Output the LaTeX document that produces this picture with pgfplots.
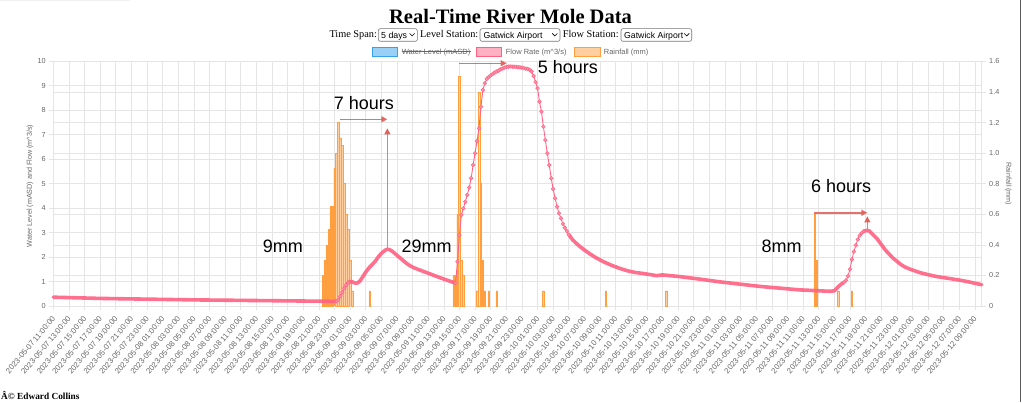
\documentclass[border=0pt]{standalone}
\usepackage{pgfplots}
\pgfplotsset{compat=1.18}
\usepackage{fontspec}
\setmainfont{Liberation Serif}
\setsansfont{Liberation Sans}
\newfontfamily\arial{Liberation Sans}
\usetikzlibrary{arrows.meta}

\definecolor{flowpink}{HTML}{FF6384}
\definecolor{rainorange}{HTML}{FF9F40}
\definecolor{bluefill}{HTML}{9AD0F5}
\definecolor{blueline}{HTML}{36A2EB}
\definecolor{pinkfill}{HTML}{FFB1C1}
\definecolor{orangefill}{HTML}{FFCF9F}
\definecolor{gridc}{HTML}{E5E5E5}
\definecolor{tickc}{HTML}{666666}
\definecolor{arrowred}{HTML}{E0625C}
\definecolor{shaft}{HTML}{BF8E90}
\definecolor{selbox}{HTML}{767676}

\pgfplotsset{
  base/.style={scale only axis, width=928.4pt, height=244.7pt,
    at={(53.3pt,96pt)}, anchor=south west,
    xmin=0, xmax=118.87, xtick={0,2,...,118}},
  tickfont/.style={font=\arial\fontsize{7.3}{8}\selectfont, text=tickc},
  thickflow/.style={flowpink, opacity=0.92, line width=3.6pt, line join=round, line cap=round, mark=none},
  dotflow/.style={flowpink, line width=0.9pt, mark=*, mark size=1.85pt,
    mark options={fill=flowpink!70, draw=flowpink, line width=0.5pt}},
}

\begin{document}
\begin{tikzpicture}
\useasboundingbox (0,0) rectangle (1022pt,402pt);

% ---------- grid axis ----------
\begin{axis}[base, ymin=0, ymax=10, ytick={0,1,...,10},
  xticklabels={}, yticklabels={},
  extra y ticks={1.25,2.5,3.75,6.25,7.5,8.75}, extra y tick labels={},
  extra y tick style={grid=major},
  grid=major, grid style={gridc, line width=0.6pt},
  axis line style={gridc, line width=0.6pt},
  major tick length=0pt, tick style={draw=none}]
\addplot[draw=none] coordinates {(0,0)};
\end{axis}

% ---------- rainfall axis (right) ----------
\begin{axis}[base, ymin=0, ymax=1.6,
  xtick=\empty, xticklabels={},
  ytick={0,0.2,0.4,0.6,0.8,1.0,1.2,1.4,1.6},
  yticklabels={0,0.2,0.4,0.6,0.8,1.0,1.2,1.4,1.6},
  ytick pos=right, yticklabel pos=right,
  tick align=outside, major tick length=4pt,
  tick style={gridc, line width=0.6pt},
  axis line style={draw=none},
  yticklabel style={tickfont}]
\addplot[ybar, bar width=1.5pt, fill=orangefill, draw=rainorange, line width=0.4pt] coordinates {
(34.5,0.2) (34.75,0.3) (35,0.4) (35.25,0.5) (35.5,0.65) (35.75,0.65) (36,0.9) (36.25,1.0)
(36.5,1.2) (36.75,1.1) (37,1.05) (37.25,0.8) (37.5,0.6) (37.75,0.5) (38,0.3) (38.25,0.1)
(40.5,0.1)
(51.25,0.2) (51.5,0.2) (51.75,0.6) (52,1.5) (52.25,0.3) (52.5,0.2)
(54.25,0.1) (54.5,1.4) (54.75,0.8) (55,0.3) (55.25,0.1) (55.75,0.1) (56.75,0.1)
(62.75,0.1) (70.75,0.1) (78.5,0.1)
(97.5,0.6) (97.75,0.3) (100.5,0.1) (102.25,0.1)
};
\end{axis}

% ---------- flow axis (left) ----------
\begin{axis}[base, ymin=0, ymax=10, clip=false,
  ytick={0,1,...,10}, yticklabels={0,1,2,3,4,5,6,7,8,9,10},
  xticklabels={
2023-05-07 11:00:00,2023-05-07 13:00:00,2023-05-07 15:00:00,2023-05-07 17:00:00,2023-05-07 19:00:00,2023-05-07 21:00:00,2023-05-07 23:00:00,
2023-05-08 01:00:00,2023-05-08 03:00:00,2023-05-08 05:00:00,2023-05-08 07:00:00,2023-05-08 09:00:00,2023-05-08 11:00:00,2023-05-08 13:00:00,2023-05-08 15:00:00,2023-05-08 17:00:00,2023-05-08 19:00:00,2023-05-08 21:00:00,2023-05-08 23:00:00,
2023-05-09 01:00:00,2023-05-09 03:00:00,2023-05-09 05:00:00,2023-05-09 07:00:00,2023-05-09 09:00:00,2023-05-09 11:00:00,2023-05-09 13:00:00,2023-05-09 15:00:00,2023-05-09 17:00:00,2023-05-09 19:00:00,2023-05-09 21:00:00,2023-05-09 23:00:00,
2023-05-10 01:00:00,2023-05-10 03:00:00,2023-05-10 05:00:00,2023-05-10 07:00:00,2023-05-10 09:00:00,2023-05-10 11:00:00,2023-05-10 13:00:00,2023-05-10 15:00:00,2023-05-10 17:00:00,2023-05-10 19:00:00,2023-05-10 21:00:00,2023-05-10 23:00:00,
2023-05-11 01:00:00,2023-05-11 03:00:00,2023-05-11 05:00:00,2023-05-11 07:00:00,2023-05-11 09:00:00,2023-05-11 11:00:00,2023-05-11 13:00:00,2023-05-11 15:00:00,2023-05-11 17:00:00,2023-05-11 19:00:00,2023-05-11 21:00:00,2023-05-11 23:00:00,
2023-05-12 01:00:00,2023-05-12 03:00:00,2023-05-12 05:00:00,2023-05-12 07:00:00,2023-05-12 09:00:00},
  xtick pos=left, ytick pos=left,
  tick align=outside, major tick length=4pt,
  tick style={gridc, line width=0.6pt},
  axis line style={draw=none},
  yticklabel style={tickfont},
  xticklabel style={font=\arial\fontsize{7.8}{8.5}\selectfont, text=tickc, rotate=50, anchor=east, xshift=-2pt, yshift=-5pt}]

% slow segments (dense dots look like a thick band)
\addplot[thickflow] coordinates {
(0,0.36) (6,0.31) (12,0.28) (18,0.25) (24,0.23) (30,0.21) (36,0.19) (36.25,0.2)};
\addplot[dotflow] coordinates {
(36.25,0.2) (36.5,0.25) (36.75,0.4) (37,0.56) (37.25,0.73) (37.5,0.86) (37.75,0.96)};
\addplot[thickflow] coordinates {
(37.75,0.96) (38,0.99) (38.25,0.99) (38.5,0.95) (38.75,0.93) (39,0.95) (39.25,1.02) (39.5,1.13)
(39.75,1.26) (40,1.38) (40.25,1.49) (40.5,1.59) (40.75,1.67) (41,1.75) (41.25,1.84) (41.5,1.96)
(41.75,2.06) (42,2.15) (42.25,2.22) (42.5,2.28) (42.75,2.32) (43,2.31) (43.25,2.27) (43.5,2.21)
(43.75,2.14) (44,2.07) (44.5,1.94) (45,1.8) (45.5,1.68) (46,1.59) (46.5,1.52) (47,1.46)
(48,1.34) (49,1.22) (50,1.1) (51,0.99) (51.5,0.94)};
\addplot[dotflow] coordinates {
(51.5,0.94) (51.75,1.81) (52,2.9) (52.25,3.72) (52.5,3.99) (52.75,4.26) (53,4.54) (53.25,4.84)
(53.5,5.22) (53.75,5.76) (54,6.24) (54.25,6.74) (54.5,7.26) (54.75,8.14) (55,8.83) (55.25,9.1)
(55.5,9.28) (55.75,9.36) (56,9.42) (56.25,9.48) (56.5,9.54) (56.75,9.58) (57,9.62) (57.25,9.67)
(57.5,9.7) (57.75,9.74) (58,9.77) (58.25,9.78) (58.5,9.79) (58.75,9.78) (59,9.78) (59.25,9.77)
(59.5,9.76) (59.75,9.75) (60,9.74) (60.25,9.72) (60.5,9.7) (60.75,9.69) (61,9.65) (61.25,9.58)
(61.5,9.4) (61.75,9.15) (62,8.9) (62.25,8.35) (62.5,7.94) (62.75,7.33) (63,6.78) (63.25,6.24)
(63.5,5.76) (63.75,5.22) (64,4.78) (64.25,4.4) (64.5,4.06) (64.75,3.79) (65,3.58) (65.25,3.36)
(65.5,3.2) (65.75,3.06) (66,2.92)};
\addplot[thickflow] coordinates {
(66,2.92) (66.5,2.7) (67,2.55) (67.5,2.41) (68,2.29) (68.75,2.12) (69.5,1.97) (70.5,1.8)
(71.5,1.66) (72.5,1.54) (73.5,1.44) (74.5,1.37) (75.5,1.33) (76.5,1.28) (77.25,1.24) (78,1.27)
(79,1.24) (80.25,1.2) (82.75,1.1) (85.25,0.99) (88,0.89) (90.5,0.8) (93,0.73) (95.5,0.66)
(97.5,0.63) (99.5,0.6) (100,0.62) (100.25,0.7) (100.5,0.79) (100.75,0.86) (101,0.92) (101.25,0.97)};
\addplot[dotflow] coordinates {
(101.25,0.97) (101.5,1.05) (101.75,1.22) (102,1.5) (102.25,1.9) (102.5,2.22) (102.75,2.48)
(103,2.72) (103.25,2.88) (103.5,2.98) (103.75,3.05)};
\addplot[thickflow] coordinates {
(103.75,3.05) (104,3.08) (104.25,3.09) (104.5,3.06) (104.75,2.98) (105,2.9) (105.5,2.74)
(106,2.52) (106.5,2.3) (107,2.13) (107.5,1.96) (108,1.83) (108.5,1.7) (109,1.6) (109.5,1.53)
(110,1.47) (111,1.36) (112,1.28) (113,1.21) (114,1.16) (115,1.11) (116,1.06) (117,1.0)
(118,0.93) (118.87,0.87)};

% annotations
\draw[arrowred, opacity=0.9, line width=1.5pt, -{Triangle[length=6pt,width=6pt]}] (axis cs:36.71,7.63) -- (axis cs:42.77,7.63);
\draw[shaft, line width=1pt, -{Triangle[length=6pt,width=6pt,color=arrowred]}] (axis cs:42.77,2.36) -- (axis cs:42.77,7.26);
\draw[arrowred, opacity=0.9, line width=1.5pt, -{Triangle[length=6pt,width=6pt]}] (axis cs:51.98,9.92) -- (axis cs:58.05,9.92);
\draw[arrowred, opacity=0.9, line width=1.5pt, -{Triangle[length=6pt,width=6pt]}] (axis cs:97.44,3.81) -- (axis cs:104.23,3.81);
\draw[shaft, line width=1pt, -{Triangle[length=6pt,width=6pt,color=arrowred]}] (axis cs:104.23,3.12) -- (axis cs:104.23,3.66);

\node[font=\arial\fontsize{18}{20}\selectfont, inner sep=0] at (axis cs:39.78,8.30) {7 hours};
\node[font=\arial\fontsize{18}{20}\selectfont, inner sep=0] at (axis cs:29.4,2.45) {9mm};
\node[font=\arial\fontsize{18}{20}\selectfont, inner sep=0] at (axis cs:47.81,2.45) {29mm};
\node[font=\arial\fontsize{18}{20}\selectfont, inner sep=0] at (axis cs:65.9,9.75) {5 hours};
\node[font=\arial\fontsize{18}{20}\selectfont, inner sep=0] at (axis cs:100.86,4.9) {6 hours};
\node[font=\arial\fontsize{18}{20}\selectfont, inner sep=0] at (axis cs:93.26,2.45) {8mm};
\end{axis}

% ---------- axis titles ----------
\node[rotate=90, font=\arial\fontsize{7.2}{8}\selectfont, text=tickc] at (30pt,216pt) {Water Level (mASD) and Flow (m\textasciicircum 3/s)};
\node[rotate=-90, font=\arial\fontsize{7.2}{8}\selectfont, text=tickc] at (1008.3pt,218pt) {Rainfall (mm)};

% ---------- title and controls ----------
\node[anchor=base, inner sep=0, font=\bfseries\fontsize{20.5}{24}\selectfont] at (510.5pt,378pt) {Real-Time River Mole Data};

\node[anchor=base west, inner sep=0, font=\fontsize{10.3}{12}\selectfont] at (329.3pt,364.3pt) {Time Span:};
\draw[selbox, line width=0.6pt, rounded corners=2pt] (378.3pt,360.7pt) rectangle (417.3pt,373.3pt);
\node[anchor=base west, inner sep=0, font=\arial\fontsize{8.8}{10}\selectfont] at (381pt,363.8pt) {5 days};
\draw[line width=0.6pt] (409.6pt,368.6pt) -- (412.1pt,366.1pt) -- (414.6pt,368.6pt);

\node[anchor=base west, inner sep=0, font=\fontsize{10.3}{12}\selectfont] at (420pt,364.3pt) {Level Station:};
\draw[selbox, line width=0.6pt, rounded corners=2pt] (480pt,360.7pt) rectangle (560pt,373.3pt);
\node[anchor=base west, inner sep=0, font=\arial\fontsize{8.7}{10}\selectfont] at (483.3pt,363.8pt) {Gatwick Airport};
\draw[line width=0.6pt] (552.3pt,368.6pt) -- (554.8pt,366.1pt) -- (557.3pt,368.6pt);

\node[anchor=base west, inner sep=0, font=\fontsize{10.3}{12}\selectfont] at (562.7pt,364.3pt) {Flow Station:};
\draw[selbox, line width=0.6pt, rounded corners=2pt] (621pt,360.7pt) rectangle (691.7pt,373.3pt);
\node[anchor=base west, inner sep=0, font=\arial\fontsize{8.7}{10}\selectfont] at (624pt,363.8pt) {Gatwick Airport};
\draw[line width=0.6pt] (684.2pt,368.6pt) -- (686.7pt,366.1pt) -- (689.2pt,368.6pt);

% ---------- legend ----------
\filldraw[fill=bluefill, draw=blueline, line width=0.6pt] (372.3pt,346pt) rectangle (397.3pt,354.7pt);
\node[name=wl, anchor=base west, inner sep=0, font=\arial\fontsize{7.5}{8}\selectfont, text=tickc] at (401.7pt,347.7pt) {Water Level (mASD)};
\draw[tickc, line width=0.5pt] ([yshift=2.7pt]wl.base west) -- ([yshift=2.7pt]wl.base east);
\filldraw[fill=pinkfill, draw=flowpink, line width=0.6pt] (476pt,346pt) rectangle (501.7pt,354.7pt);
\node[anchor=base west, inner sep=0, font=\arial\fontsize{7.5}{8}\selectfont, text=tickc] at (505.7pt,347.7pt) {Flow Rate (m\textasciicircum 3/s)};
\filldraw[fill=orangefill, draw=rainorange, line width=0.6pt] (574.3pt,346pt) rectangle (600pt,354.7pt);
\node[anchor=base west, inner sep=0, font=\arial\fontsize{7.5}{8}\selectfont, text=tickc] at (603.7pt,347.7pt) {Rainfall (mm)};

% ---------- footer and page edge ----------
\node[anchor=base west, inner sep=0, font=\bfseries\fontsize{9.3}{11}\selectfont] at (1pt,2.3pt) {Â© Edward Collins};
\fill[gray!12] (0pt,400.6pt) rectangle (130pt,402pt);
\draw[black!65, line width=1pt] (1020.5pt,0pt) -- (1020.5pt,402pt);
\end{tikzpicture}
\end{document}
